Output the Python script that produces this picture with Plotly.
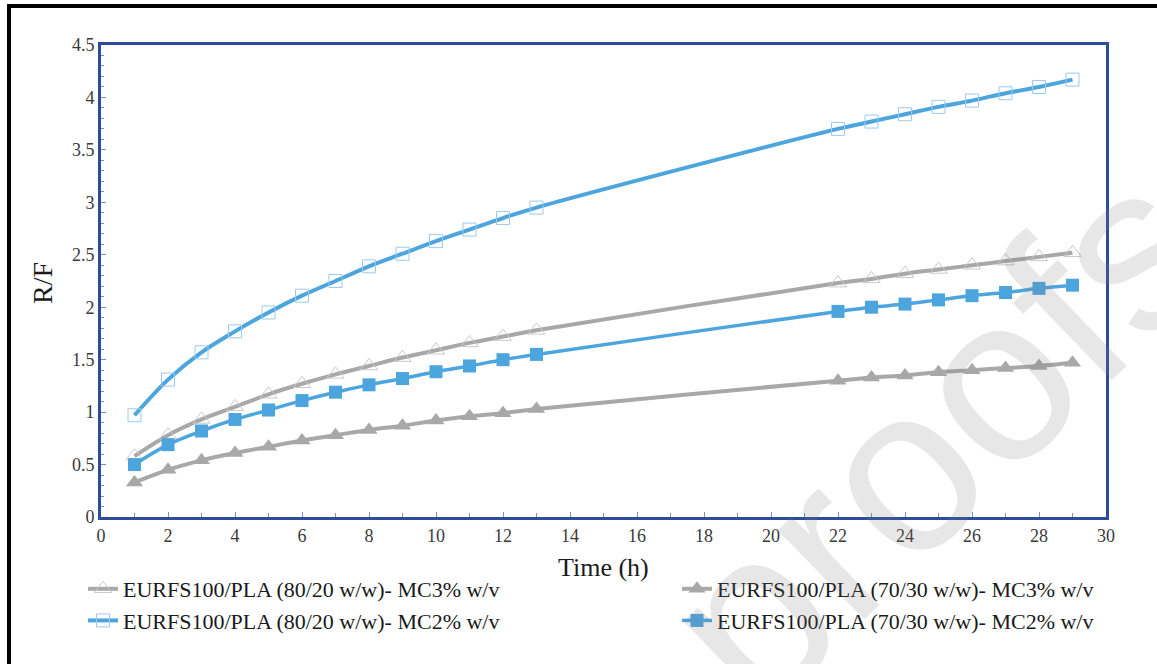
import plotly.graph_objects as go

time_h = [1, 2, 3, 4, 5, 6, 7, 8, 9, 10, 11, 12, 13, 22, 23, 24, 25, 26, 27, 28, 29]

rf_8020_mc3 = [0.58, 0.78, 0.93, 1.05, 1.17, 1.27, 1.36, 1.44, 1.52, 1.59, 1.66, 1.72, 1.78,
               2.23, 2.27, 2.32, 2.36, 2.40, 2.44, 2.48, 2.52]
rf_7030_mc3 = [0.33, 0.45, 0.54, 0.61, 0.67, 0.73, 0.78, 0.83, 0.87, 0.92, 0.96, 0.99, 1.03,
               1.30, 1.33, 1.35, 1.38, 1.40, 1.42, 1.44, 1.47]
rf_8020_mc2 = [0.97, 1.31, 1.57, 1.77, 1.95, 2.11, 2.25, 2.39, 2.51, 2.63, 2.74, 2.85, 2.95,
               3.70, 3.77, 3.84, 3.91, 3.97, 4.04, 4.10, 4.17]
rf_7030_mc2 = [0.50, 0.69, 0.82, 0.93, 1.02, 1.11, 1.19, 1.26, 1.32, 1.385, 1.44, 1.50, 1.55,
               1.96, 2.00, 2.03, 2.07, 2.11, 2.14, 2.18, 2.21]

names = ["EURFS100/PLA (80/20 w/w)- MC3% w/v",
         "EURFS100/PLA (70/30 w/w)- MC3% w/v",
         "EURFS100/PLA (80/20 w/w)- MC2% w/v",
         "EURFS100/PLA (70/30 w/w)- MC2% w/v"]

BLUE = "#4DA5DE"
GRAY = "#A8A8A8"
SERIF = "Liberation Serif"

fig = go.Figure()

fig.add_trace(go.Scatter(
    x=time_h, y=rf_8020_mc3, name=names[0], mode="lines+markers",
    line=dict(color=GRAY, width=4, shape="spline"),
    marker=dict(symbol="triangle-up-open", size=15, color="#C9C9C9", line=dict(width=1)),
    legend="legend"))
fig.add_trace(go.Scatter(
    x=time_h, y=rf_8020_mc2, name=names[2], mode="lines+markers",
    line=dict(color=BLUE, width=4, shape="spline"),
    marker=dict(symbol="square-open", size=13, color="#9CC9EE", line=dict(width=1)),
    legend="legend"))
fig.add_trace(go.Scatter(
    x=time_h, y=rf_7030_mc3, name=names[1], mode="lines+markers",
    line=dict(color=GRAY, width=4, shape="spline"),
    marker=dict(symbol="triangle-up", size=15, color=GRAY),
    legend="legend2"))
fig.add_trace(go.Scatter(
    x=time_h, y=rf_7030_mc2, name=names[3], mode="lines+markers",
    line=dict(color=BLUE, width=3.5, shape="spline"),
    marker=dict(symbol="square", size=13, color=BLUE),
    legend="legend2"))

AXC = "#2E4C9C"
axis_common = dict(
    showline=True, linecolor=AXC, linewidth=3, mirror=True,
    showgrid=False, zeroline=False,
    ticks="inside", ticklen=5, tickcolor="#7F8FBF", tickwidth=1,
    tickfont=dict(family=SERIF, size=18, color="#3A3A3A"),
)

fig.update_xaxes(range=[0, 30], dtick=2, tick0=0,
                 minor=dict(dtick=1, ticks="inside", ticklen=4, tickcolor="#7F8FBF"),
                 **axis_common)
fig.update_yaxes(range=[0, 4.5], dtick=0.5, tick0=0,
                 minor=dict(dtick=0.1, ticks="inside", ticklen=3, tickcolor="#7F8FBF"),
                 **axis_common)

def px_x(p):
    return (p - 101) / 1005.0

def px_y(p):
    return (517 - p) / 472.0

legend_common = dict(
    orientation="v", yanchor="top", xanchor="left",
    font=dict(family=SERIF, size=22, color="#1A1A1A"),
    bgcolor="rgba(0,0,0,0)", borderwidth=0, itemwidth=30, tracegroupgap=0,
)

fig.update_layout(
    width=1157, height=664,
    margin=dict(l=101, r=51, t=45, b=147),
    paper_bgcolor="white", plot_bgcolor="white",
    font=dict(family=SERIF),
    legend=dict(x=px_x(83), y=px_y(568), **legend_common),
    legend2=dict(x=px_x(677), y=px_y(568), **legend_common),
    annotations=[
        dict(text="Time (h)", xref="paper", yref="paper", x=0.5, y=px_y(567),
             showarrow=False, font=dict(family=SERIF, size=26, color="#1A1A1A"),
             xanchor="center", yanchor="middle"),
        dict(text="R/F", xref="paper", yref="paper", x=px_x(42), y=px_y(283),
             showarrow=False, textangle=-90, font=dict(family=SERIF, size=28, color="#1A1A1A"),
             xanchor="center", yanchor="middle"),
        dict(text="proofs", xref="paper", yref="paper", x=px_x(936), y=px_y(436),
             showarrow=False, textangle=-44,
             font=dict(family="Liberation Sans", size=235,
                       color="rgba(120,120,120,0.18)"),
             xanchor="center", yanchor="middle"),
    ],
    shapes=[
        dict(type="line", xref="paper", yref="paper", x0=px_x(9), x1=px_x(1160),
             y0=px_y(6), y1=px_y(6), line=dict(color="black", width=4)),
        dict(type="line", xref="paper", yref="paper", x0=px_x(9), x1=px_x(9),
             y0=px_y(4), y1=px_y(666), line=dict(color="black", width=4)),
    ],
    showlegend=True,
)

fig.write_html("out.html", config={"displayModeBar": False},
               post_script="document.body.style.margin='0';")
